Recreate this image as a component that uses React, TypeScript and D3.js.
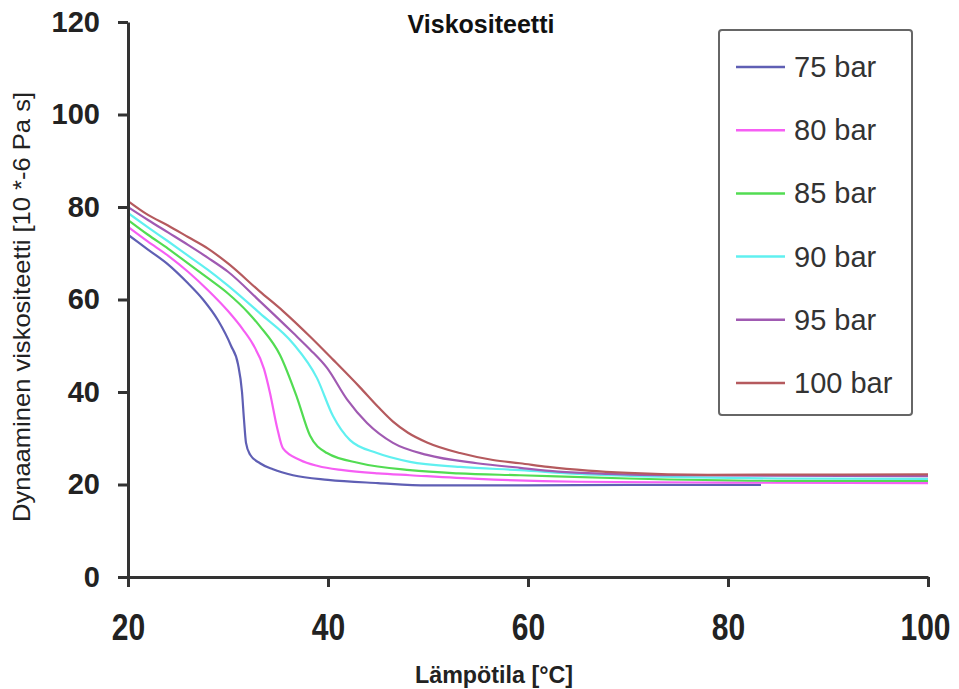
import { useEffect, useRef } from 'react'
import * as d3 from 'd3'

// Lämpötila [°C] (x) and viscosity values (y) per pressure series
const seriesNames = ['75 bar', '80 bar', '85 bar', '90 bar', '95 bar', '100 bar']
const seriesColors = ['#5f5fb4', '#f65ef4', '#52dc52', '#60f0f0', '#a05ab2', '#b55a5e']

const temp75 = [20, 22, 24, 26, 27.5, 29, 30.3, 31, 31.4, 31.6, 31.8, 32.2, 33.2, 34.5, 36.5, 40, 45, 50, 60, 70, 83.3]
const visc75 = [74, 70.8, 67.6, 63.5, 60, 55.5, 50, 46, 40, 34, 29, 26.5, 24.6, 23.3, 22, 21, 20.3, 19.8, 19.8, 19.9, 19.9]

const temp80 = [20, 22, 24, 26, 28, 30, 31.5, 32.5, 33.6, 34.2, 34.9, 35.5, 37.2, 39, 41.5, 45, 48.2, 55, 65, 80, 100]
const visc80 = [75.7, 72.5, 69.5, 66, 62, 57.5, 53.5, 50.3, 45, 39.8, 32.4, 27.8, 25.3, 24, 23.1, 22.4, 22, 21.2, 20.6, 20.4, 20.3]

const temp85 = [20, 22, 24, 26, 28, 30, 32, 33.2, 35.2, 36.9, 38.2, 39.9, 43.2, 48.2, 53, 59.2, 70, 85, 100]
const visc85 = [77.2, 74, 71, 67.8, 64.6, 61.3, 57.2, 54.2, 48, 38.8, 30.6, 26.8, 24.6, 23.1, 22.4, 22, 21.3, 20.8, 20.8]

const temp90 = [20, 22, 24, 26, 28, 30, 33.2, 36.5, 38.9, 40.5, 42.2, 44.9, 48.2, 53.2, 59.2, 65, 75, 85, 100]
const visc90 = [78.7, 75.6, 72.6, 69.5, 66.4, 63, 57, 50.5, 43, 34.8, 29.6, 26.8, 24.9, 23.8, 23.1, 22.3, 21.6, 21.3, 21.2]

const temp95 = [20, 22, 24, 26, 28, 30, 33.2, 36.5, 38.2, 39.9, 41.9, 43.9, 46.5, 49.9, 54.9, 59.2, 63, 68, 75, 100]
const visc95 = [80, 77.2, 74.5, 71.8, 69, 66, 59.6, 52.8, 49.2, 45.2, 38.4, 33.3, 29, 26.4, 24.6, 23.6, 22.8, 22.3, 22, 21.8]

const temp100 = [20, 22, 24, 26, 28, 30, 33.2, 35.5, 38.2, 40.5, 43.2, 45, 46.5, 48, 49.9, 53.2, 56.5, 59.2, 62, 66, 70, 78, 100]
const visc100 = [81.3, 78.3, 76, 73.5, 71, 67.8, 61.7, 57.5, 52, 47, 41, 36.8, 33.6, 31.2, 29.1, 26.8, 25.3, 24.6, 23.8, 23, 22.5, 22.1, 22.2]

const xTicks = [20, 40, 60, 80, 100]
const yTicks = [0, 20, 40, 60, 80, 100, 120]

const temps = [temp75, temp80, temp85, temp90, temp95, temp100]
const viscs = [visc75, visc80, visc85, visc90, visc95, visc100]

export default function App() {
  const ref = useRef<SVGSVGElement>(null)

  useEffect(() => {
    const svg = d3.select(ref.current)
    svg.selectAll('*').remove()

    const W = 959
    const H = 689
    const margin = { top: 22, left: 128, right: 31, bottom: 112 }

    const x = d3.scaleLinear().domain([20, 100]).range([margin.left, W - margin.right])
    const y = d3.scaleLinear().domain([0, 120]).range([H - margin.bottom, margin.top])

    svg.append('rect').attr('width', W).attr('height', H).attr('fill', '#fff')

    // data lines
    const line = d3.line<[number, number]>()
      .x(d => x(d[0]))
      .y(d => y(d[1]))
      .curve(d3.curveMonotoneX)

    seriesNames.forEach((name, i) => {
      const pts = temps[i].map((t, j) => [t, viscs[i][j]] as [number, number])
      svg.append('path')
        .datum(pts)
        .attr('d', line)
        .attr('fill', 'none')
        .attr('stroke', seriesColors[i])
        .attr('stroke-width', 2.2)
    })

    // axes
    const yAxis = svg.append('g')
      .attr('transform', `translate(${margin.left},0)`)
      .call(d3.axisLeft(y).tickValues(yTicks).tickSize(10).tickSizeOuter(0).tickPadding(18))
    yAxis.select('.domain').attr('stroke', '#333').attr('stroke-width', 3)
    yAxis.selectAll('.tick line').attr('stroke', '#333').attr('stroke-width', 3)
    yAxis.selectAll('.tick text')
      .attr('fill', '#222')
      .style('font-family', "'Liberation Sans', Arial, sans-serif")
      .style('font-weight', 'bold')
      .style('font-size', '29px')

    const xAxis = svg.append('g')
      .attr('transform', `translate(0,${H - margin.bottom})`)
      .call(d3.axisBottom(x).tickValues(xTicks).tickSize(10).tickSizeOuter(0))
    xAxis.select('.domain').attr('stroke', '#333').attr('stroke-width', 3)
    xAxis.selectAll('.tick line').attr('stroke', '#333').attr('stroke-width', 3)
    // tall, condensed look of the bottom tick labels
    xAxis.selectAll<SVGTextElement, number>('.tick text')
      .attr('fill', '#222')
      .attr('y', 50.5)
      .attr('dy', 0)
      .attr('dx', d => (String(d).length === 3 ? -3 : 0))
      .attr('transform', 'scale(1,1.25)')
      .style('font-family', "'Liberation Sans', Arial, sans-serif")
      .style('font-weight', 'bold')
      .style('font-size', '30px')

    // titles
    svg.append('text')
      .attr('x', 481).attr('y', 33)
      .attr('text-anchor', 'middle')
      .style('font-family', "'Liberation Sans', Arial, sans-serif")
      .style('font-weight', 'bold')
      .style('font-size', '25px')
      .attr('fill', '#111')
      .text('Viskositeetti')

    svg.append('text')
      .attr('x', 494).attr('y', 683)
      .attr('text-anchor', 'middle')
      .attr('textLength', 158)
      .attr('lengthAdjust', 'spacingAndGlyphs')
      .style('font-family', "'Liberation Sans', Arial, sans-serif")
      .style('font-weight', 'bold')
      .style('font-size', '24px')
      .attr('fill', '#222')
      .text('Lämpötila [°C]')

    svg.append('text')
      .attr('transform', 'translate(30,307) rotate(-90)')
      .attr('text-anchor', 'middle')
      .attr('textLength', 430)
      .attr('lengthAdjust', 'spacingAndGlyphs')
      .style('font-family', "'Liberation Sans', Arial, sans-serif")
      .style('font-size', '24px')
      .attr('fill', '#222')
      .text('Dynaaminen viskositeetti [10 *-6 Pa s]')

    // legend
    const legend = svg.append('g')
    legend.append('rect')
      .attr('x', 719).attr('y', 30)
      .attr('width', 193).attr('height', 385)
      .attr('rx', 3)
      .attr('fill', '#fff')
      .attr('stroke', '#666')
      .attr('stroke-width', 2)

    seriesNames.forEach((name, i) => {
      const ly = 67 + i * 63.2
      legend.append('line')
        .attr('x1', 736).attr('x2', 785)
        .attr('y1', ly).attr('y2', ly)
        .attr('stroke', seriesColors[i])
        .attr('stroke-width', 2.5)
      legend.append('text')
        .attr('x', 794).attr('y', ly + 10)
        .style('font-family', "'Liberation Sans', Arial, sans-serif")
        .style('font-size', '29px')
        .attr('fill', '#333')
        .text(name)
    })
  }, [])

  return (
    <svg ref={ref} width={959} height={689} style={{ position: 'absolute', left: 0, top: 0 }} />
  )
}
